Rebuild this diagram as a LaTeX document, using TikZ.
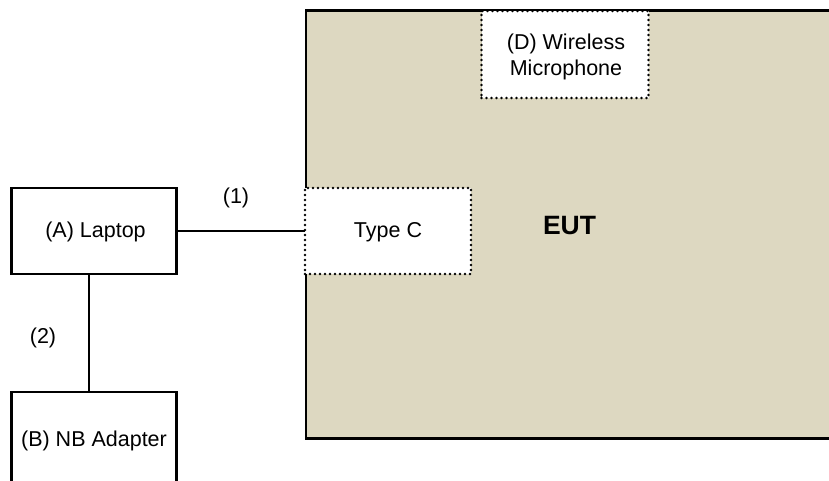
\documentclass[tikz,border=0pt]{standalone}
\usepackage{fontspec}
\setmainfont{Liberation Sans}
\definecolor{eutfill}{RGB}{221,216,193}
\tikzset{
  oneline/.style={text height=17pt,text depth=3.4pt},
  solidbox/.style={draw=black,line width=2.4pt,fill=white,minimum width=165pt,minimum height=86pt,inner sep=0pt,outer sep=0pt,align=center,font=\fontsize{21.5}{26}\selectfont},
  dotbox/.style={draw=black,line width=2.6pt,line cap=round,dash pattern=on 0pt off 5pt,fill=white,minimum width=166pt,minimum height=86pt,inner sep=0pt,outer sep=0pt,align=center,font=\fontsize{21.5}{26}\selectfont},
  lbl/.style={inner sep=0pt,font=\fontsize{21.5}{26}\selectfont},
  wire/.style={draw=black,line width=1.6pt}
}
\begin{document}
\begin{tikzpicture}[x=1pt,y=-1pt]
\useasboundingbox (0,0) rectangle (829,481);
\clip (0,0) rectangle (829,481);
\fill[white] (0,0) rectangle (829,481);
\node[draw=black,line width=2.8pt,fill=eutfill,minimum width=540pt,minimum height=428pt,inner sep=0pt,outer sep=0pt,anchor=north west] (eut) at (306,10.5) {};
\node[font=\fontsize{26.5}{30}\selectfont\bfseries,inner sep=0pt] (eutl) at (569.5,225.5) {EUT};
\node[dotbox,minimum width=167pt,minimum height=87pt] (mic) at (565,54.5) {\rule{0pt}{21pt}\hspace*{2pt}(D) Wireless\\\hspace*{2pt}Microphone};
\node[dotbox,oneline] (typec) at (388,231) {Type C};
\node[solidbox,oneline] (laptop) at (94,231) {\hspace*{3pt}(A) Laptop};
\node[solidbox,oneline,minimum height=96pt] (nb) at (94,440) {(B) NB Adapter};
\coordinate (vx) at (89,0);
\draw[wire] (laptop.east) -- (typec.west);
\draw[wire] (vx |- laptop.south) -- (vx |- nb.north);
\node[lbl] (l1) at (236,197.5) {(1)};
\node[lbl] (l2) at (43,337.5) {(2)};
\end{tikzpicture}
\end{document}
